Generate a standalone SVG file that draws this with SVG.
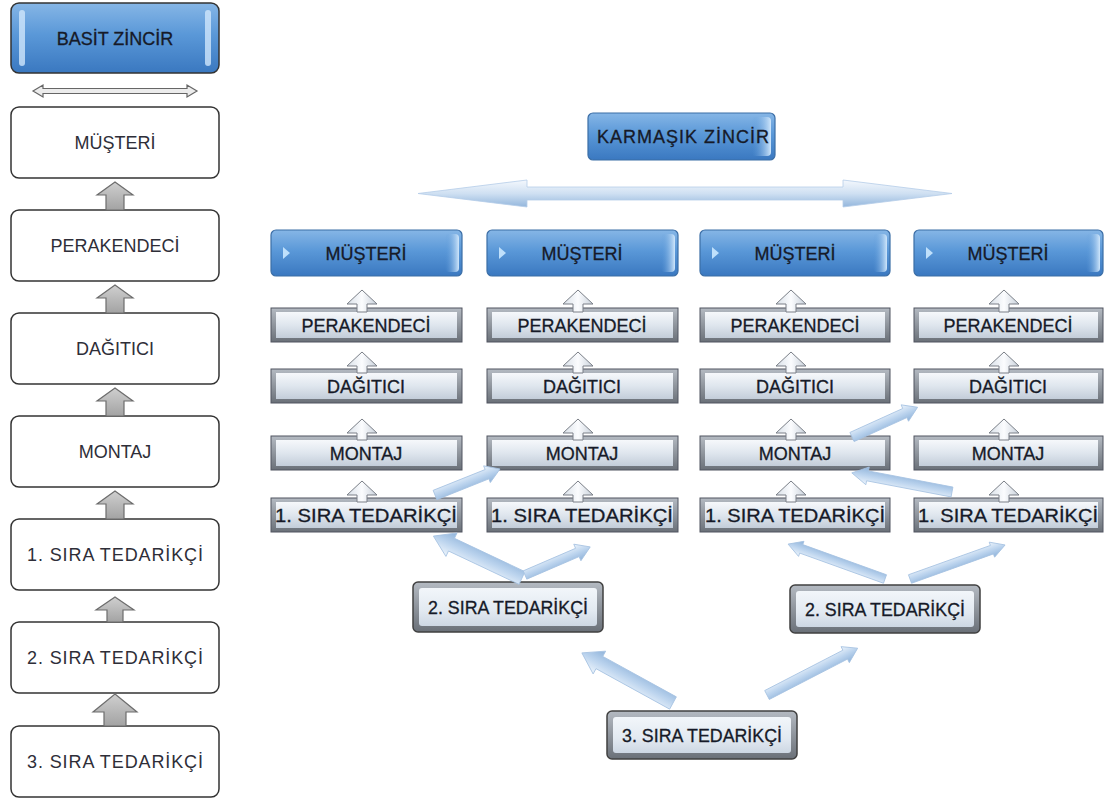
<svg xmlns="http://www.w3.org/2000/svg" width="1109" height="802" viewBox="0 0 1109 802">
<defs>
<linearGradient id="blueG" x1="0" y1="0" x2="0" y2="1">
<stop offset="0" stop-color="#86b6e6"/><stop offset="0.45" stop-color="#5a98d8"/><stop offset="1" stop-color="#3a78c0"/>
</linearGradient>
<linearGradient id="blueHi" x1="0" y1="0" x2="1" y2="0">
<stop offset="0" stop-color="#5a98d8" stop-opacity="0"/><stop offset="1" stop-color="#cfe6fb"/>
</linearGradient>
<linearGradient id="frameG" x1="0" y1="0" x2="0" y2="1">
<stop offset="0" stop-color="#b4bac2"/><stop offset="1" stop-color="#6a7078"/>
</linearGradient>
<linearGradient id="faceG" x1="0" y1="0" x2="0" y2="1">
<stop offset="0" stop-color="#f6f8fb"/><stop offset="0.5" stop-color="#dfe6ee"/><stop offset="1" stop-color="#c3cdd9"/>
</linearGradient>
<linearGradient id="face2G" x1="0" y1="0" x2="0" y2="1">
<stop offset="0" stop-color="#f2f6fa"/><stop offset="0.6" stop-color="#e2e9f1"/><stop offset="1" stop-color="#cdd7e3"/>
</linearGradient>
<linearGradient id="pipeG" x1="0" y1="0" x2="0" y2="1">
<stop offset="0" stop-color="#eef5fc"/><stop offset="0.5" stop-color="#bcd4ee"/><stop offset="1" stop-color="#8fb3da"/>
</linearGradient>
<linearGradient id="bigG" x1="0" y1="0" x2="0" y2="1">
<stop offset="0" stop-color="#f4f8fd"/><stop offset="0.5" stop-color="#cfe0f2"/><stop offset="1" stop-color="#93b6dc"/>
</linearGradient>
<linearGradient id="grayArrG" x1="0" y1="0" x2="0" y2="1">
<stop offset="0" stop-color="#cfcfcf"/><stop offset="1" stop-color="#a3a3a3"/>
</linearGradient>
<linearGradient id="upG" x1="0" y1="0" x2="1" y2="0">
<stop offset="0" stop-color="#d9e0e8"/><stop offset="0.5" stop-color="#fbfcfe"/><stop offset="1" stop-color="#c9d1db"/>
</linearGradient>
</defs>
<style>
.t{font-family:"Liberation Sans",Arial,sans-serif;font-size:18px;text-anchor:middle;fill:#161a28;stroke:#161a28;stroke-width:0.3}
.tl{font-family:"Liberation Sans",Arial,sans-serif;font-size:18px;text-anchor:middle;fill:#2e2e38}
.wbox{fill:#ffffff;stroke:#333333;stroke-width:1.5}
.blue{fill:url(#blueG);stroke:#3b6ea6;stroke-width:1.2}
.frame{fill:url(#frameG);stroke:#505560;stroke-width:1}
.face{fill:url(#faceG)}
.face2{fill:url(#face2G)}
.pipe{fill:url(#pipeG);stroke:#a6c2e2;stroke-width:0.8}
.garr{fill:url(#grayArrG);stroke:#6d6d6d;stroke-width:1.2}
.uarr{fill:url(#upG);stroke:#7a7f87;stroke-width:1}
.tri{fill:#bfe0fb}
</style>
<rect width="1109" height="802" fill="#ffffff"/>

<!-- LEFT: simple chain -->
<g id="basit-zincir">
<rect x="11" y="3" width="208" height="70" rx="8" fill="url(#blueG)" stroke="#333" stroke-width="1.5"/>
<rect x="19" y="10" width="6" height="56" rx="3" fill="#cfe6fb" opacity="0.8"/>
<rect x="205" y="10" width="6" height="56" rx="3" fill="#cfe6fb" opacity="0.8"/>
<text class="t" x="115" y="45">BASİT ZİNCİR</text>
</g>
<g id="basit-double-arrow">
<path d="M33,91 L43,85 L43,88.5 L187,88.5 L187,85 L197,91 L187,97 L187,93.5 L43,93.5 L43,97 Z" fill="#ececec" stroke="#666" stroke-width="1.2"/>
</g>
<g id="l-musteri"><rect class="wbox" x="11" y="107" width="208" height="71" rx="8"/><text class="tl" x="115" y="149">MÜŞTERİ</text></g>
<g id="l-perakendeci"><rect class="wbox" x="11" y="210" width="208" height="71" rx="8"/><text class="tl" x="115" y="252">PERAKENDECİ</text></g>
<g id="l-dagitici"><rect class="wbox" x="11" y="313" width="208" height="71" rx="8"/><text class="tl" x="115" y="355">DAĞITICI</text></g>
<g id="l-montaj"><rect class="wbox" x="11" y="416" width="208" height="71" rx="8"/><text class="tl" x="115" y="458">MONTAJ</text></g>
<g id="l-sira1"><rect class="wbox" x="11" y="519" width="208" height="71" rx="8"/><text class="tl" x="115" y="561" textLength="176" lengthAdjust="spacing">1. SIRA TEDARİKÇİ</text></g>
<g id="l-sira2"><rect class="wbox" x="11" y="622" width="208" height="71" rx="8"/><text class="tl" x="115" y="664" textLength="176" lengthAdjust="spacing">2. SIRA TEDARİKÇİ</text></g>
<g id="l-sira3"><rect class="wbox" x="11" y="726" width="208" height="71" rx="8"/><text class="tl" x="115" y="768" textLength="176" lengthAdjust="spacing">3. SIRA TEDARİKÇİ</text></g>

<!-- RIGHT: complex chain header -->
<g id="karmasik-zincir">
<rect x="588" y="113" width="187" height="47" rx="5" class="blue"/>
<rect x="752" y="117" width="19" height="39" rx="4" fill="url(#blueHi)"/>
<text class="t" x="683" y="143" textLength="172" lengthAdjust="spacing">KARMAŞIK ZİNCİR</text>
</g>
<g id="karmasik-double-arrow">
<path d="M418,193.5 L527,180 L527,187 L843,187 L843,180 L952,193.5 L843,207 L843,200 L527,200 L527,207 Z" fill="url(#bigG)" stroke="#b5cde8" stroke-width="0.8"/>
</g>

<!-- grid column 1 -->
<g id="c1-musteri"><rect class="blue" x="271" y="230" width="191" height="46" rx="5"/><path class="tri" d="M283,247 L290,253 L283,259 Z"/><rect x="445" y="234" width="14" height="38" rx="4" fill="url(#blueHi)"/><text class="t" x="366" y="260">MÜŞTERİ</text></g>
<g id="c1-perakendeci"><rect class="frame" x="271" y="308" width="191" height="34"/><rect class="face" x="276" y="312" width="181" height="26"/><text class="t" x="366" y="332">PERAKENDECİ</text></g>
<g id="c1-dagitici"><rect class="frame" x="271" y="369" width="191" height="34"/><rect class="face" x="276" y="373" width="181" height="26"/><text class="t" x="366" y="393">DAĞITICI</text></g>
<g id="c1-montaj"><rect class="frame" x="271" y="436" width="191" height="34"/><rect class="face" x="276" y="440" width="181" height="26"/><text class="t" x="366" y="460">MONTAJ</text></g>
<g id="c1-sira1"><rect class="frame" x="271" y="498" width="191" height="34"/><rect class="face" x="276" y="502" width="181" height="26"/><text class="t" x="366" y="522" textLength="182" lengthAdjust="spacingAndGlyphs">1. SIRA TEDARİKÇİ</text></g>

<!-- grid column 2 -->
<g id="c2-musteri"><rect class="blue" x="487" y="230" width="191" height="46" rx="5"/><path class="tri" d="M499,247 L506,253 L499,259 Z"/><rect x="661" y="234" width="14" height="38" rx="4" fill="url(#blueHi)"/><text class="t" x="582" y="260">MÜŞTERİ</text></g>
<g id="c2-perakendeci"><rect class="frame" x="487" y="308" width="191" height="34"/><rect class="face" x="492" y="312" width="181" height="26"/><text class="t" x="582" y="332">PERAKENDECİ</text></g>
<g id="c2-dagitici"><rect class="frame" x="487" y="369" width="191" height="34"/><rect class="face" x="492" y="373" width="181" height="26"/><text class="t" x="582" y="393">DAĞITICI</text></g>
<g id="c2-montaj"><rect class="frame" x="487" y="436" width="191" height="34"/><rect class="face" x="492" y="440" width="181" height="26"/><text class="t" x="582" y="460">MONTAJ</text></g>
<g id="c2-sira1"><rect class="frame" x="487" y="498" width="191" height="34"/><rect class="face" x="492" y="502" width="181" height="26"/><text class="t" x="582" y="522" textLength="182" lengthAdjust="spacingAndGlyphs">1. SIRA TEDARİKÇİ</text></g>

<!-- grid column 3 -->
<g id="c3-musteri"><rect class="blue" x="700" y="230" width="190" height="46" rx="5"/><path class="tri" d="M712,247 L719,253 L712,259 Z"/><rect x="873" y="234" width="14" height="38" rx="4" fill="url(#blueHi)"/><text class="t" x="795" y="260">MÜŞTERİ</text></g>
<g id="c3-perakendeci"><rect class="frame" x="700" y="308" width="190" height="34"/><rect class="face" x="705" y="312" width="180" height="26"/><text class="t" x="795" y="332">PERAKENDECİ</text></g>
<g id="c3-dagitici"><rect class="frame" x="700" y="369" width="190" height="34"/><rect class="face" x="705" y="373" width="180" height="26"/><text class="t" x="795" y="393">DAĞITICI</text></g>
<g id="c3-montaj"><rect class="frame" x="700" y="436" width="190" height="34"/><rect class="face" x="705" y="440" width="180" height="26"/><text class="t" x="795" y="460">MONTAJ</text></g>
<g id="c3-sira1"><rect class="frame" x="700" y="498" width="190" height="34"/><rect class="face" x="705" y="502" width="180" height="26"/><text class="t" x="795" y="522" textLength="180" lengthAdjust="spacingAndGlyphs">1. SIRA TEDARİKÇİ</text></g>

<!-- grid column 4 -->
<g id="c4-musteri"><rect class="blue" x="914" y="230" width="189" height="46" rx="5"/><path class="tri" d="M926,247 L933,253 L926,259 Z"/><rect x="1086" y="234" width="14" height="38" rx="4" fill="url(#blueHi)"/><text class="t" x="1008" y="260">MÜŞTERİ</text></g>
<g id="c4-perakendeci"><rect class="frame" x="914" y="308" width="189" height="34"/><rect class="face" x="919" y="312" width="179" height="26"/><text class="t" x="1008" y="332">PERAKENDECİ</text></g>
<g id="c4-dagitici"><rect class="frame" x="914" y="369" width="189" height="34"/><rect class="face" x="919" y="373" width="179" height="26"/><text class="t" x="1008" y="393">DAĞITICI</text></g>
<g id="c4-montaj"><rect class="frame" x="914" y="436" width="189" height="34"/><rect class="face" x="919" y="440" width="179" height="26"/><text class="t" x="1008" y="460">MONTAJ</text></g>
<g id="c4-sira1"><rect class="frame" x="914" y="498" width="189" height="34"/><rect class="face" x="919" y="502" width="179" height="26"/><text class="t" x="1008" y="522" textLength="180" lengthAdjust="spacingAndGlyphs">1. SIRA TEDARİKÇİ</text></g>

<!-- second and third tier suppliers -->
<g id="sira2-left"><rect x="413" y="582" width="190" height="50" rx="5" fill="url(#frameG)" stroke="#404040" stroke-width="1.5"/><rect x="419" y="588" width="178" height="38" rx="3" class="face2"/><text class="t" x="508" y="614" font-size="19" textLength="160" lengthAdjust="spacingAndGlyphs">2. SIRA TEDARİKÇİ</text></g>
<g id="sira2-right"><rect x="790" y="585" width="190" height="48" rx="5" fill="url(#frameG)" stroke="#404040" stroke-width="1.5"/><rect x="796" y="591" width="178" height="36" rx="3" class="face2"/><text class="t" x="885" y="616" font-size="19" textLength="160" lengthAdjust="spacingAndGlyphs">2. SIRA TEDARİKÇİ</text></g>
<g id="sira3"><rect x="607" y="711" width="190" height="48" rx="5" fill="url(#frameG)" stroke="#404040" stroke-width="1.5"/><rect x="613" y="717" width="178" height="36" rx="3" class="face2"/><text class="t" x="702" y="742" font-size="19" textLength="160" lengthAdjust="spacingAndGlyphs">3. SIRA TEDARİKÇİ</text></g>

<!-- connectors -->
<g id="connectors">
<!-- left column block arrows -->
<path class="garr" d="M115,182 L133,195 L124,195 L124,210 L106,210 L106,195 L97,195 Z"/>
<path class="garr" d="M115,285 L133,298 L124,298 L124,313 L106,313 L106,298 L97,298 Z"/>
<path class="garr" d="M115,388 L133,401 L124,401 L124,416 L106,416 L106,401 L97,401 Z"/>
<path class="garr" d="M115,491 L133,504 L124,504 L124,519 L106,519 L106,504 L97,504 Z"/>
<path class="garr" d="M115,597 L134,610 L123,610 L123,622 L107,622 L107,610 L96,610 Z"/>
<path class="garr" d="M115,694 L137,712 L126,712 L126,726 L104,726 L104,712 L93,712 Z"/>

<!-- grid up arrows -->
<path class="uarr" d="M362,290 L377,304 L367,304 L367,312 L357,312 L357,304 L347,304 Z"/>
<path class="uarr" d="M362,352 L377,366 L367,366 L367,373 L357,373 L357,366 L347,366 Z"/>
<path class="uarr" d="M362,419 L377,433 L367,433 L367,440 L357,440 L357,433 L347,433 Z"/>
<path class="uarr" d="M362,481 L377,495 L367,495 L367,502 L357,502 L357,495 L347,495 Z"/>

<path class="uarr" d="M578,290 L593,304 L583,304 L583,312 L573,312 L573,304 L563,304 Z"/>
<path class="uarr" d="M578,352 L593,366 L583,366 L583,373 L573,373 L573,366 L563,366 Z"/>
<path class="uarr" d="M578,419 L593,433 L583,433 L583,440 L573,440 L573,433 L563,433 Z"/>
<path class="uarr" d="M578,481 L593,495 L583,495 L583,502 L573,502 L573,495 L563,495 Z"/>

<path class="uarr" d="M791,290 L806,304 L796,304 L796,312 L786,312 L786,304 L776,304 Z"/>
<path class="uarr" d="M791,352 L806,366 L796,366 L796,373 L786,373 L786,366 L776,366 Z"/>
<path class="uarr" d="M791,419 L806,433 L796,433 L796,440 L786,440 L786,433 L776,433 Z"/>
<path class="uarr" d="M791,481 L806,495 L796,495 L796,502 L786,502 L786,495 L776,495 Z"/>

<path class="uarr" d="M1004,290 L1019,304 L1009,304 L1009,312 L999,312 L999,304 L989,304 Z"/>
<path class="uarr" d="M1004,352 L1019,366 L1009,366 L1009,373 L999,373 L999,366 L989,366 Z"/>
<path class="uarr" d="M1004,419 L1019,433 L1009,433 L1009,440 L999,440 L999,433 L989,433 Z"/>
<path class="uarr" d="M1004,481 L1019,495 L1009,495 L1009,502 L999,502 L999,495 L989,495 Z"/>

<!-- diagonal pipe arrows -->
<path class="pipe" transform="translate(522,578) rotate(-154.7)" d="M0,-7 H78 V-13 L98,0 L78,13 V7 H0 Z"/>
<path class="pipe" transform="translate(525,575) rotate(-23.3)" d="M0,-4.5 H57 V-9 L71,0 L57,9 V4.5 H0 Z"/>
<path class="pipe" transform="translate(673,703) rotate(-151.2)" d="M0,-7 H84 V-13 L104,0 L84,13 V7 H0 Z"/>
<path class="pipe" transform="translate(767,695) rotate(-27.3)" d="M0,-5 H88 V-9 L102,0 L88,9 V5 H0 Z"/>
<path class="pipe" transform="translate(885,579) rotate(-160.2)" d="M0,-4.5 H89 V-8 L103,0 L89,8 V4.5 H0 Z"/>
<path class="pipe" transform="translate(910,579) rotate(-19.7)" d="M0,-4.5 H87 V-8 L101,0 L87,8 V4.5 H0 Z"/>
<path class="pipe" transform="translate(435,495) rotate(-21.8)" d="M0,-5 H56 V-9 L70,0 L56,9 V5 H0 Z"/>
<path class="pipe" transform="translate(852,437) rotate(-24.4)" d="M0,-5 H58 V-9 L72,0 L58,9 V5 H0 Z"/>
<path class="pipe" transform="translate(952,492) rotate(-169.2)" d="M0,-5 H86 V-9 L102,0 L86,9 V5 H0 Z"/>
</g>
</svg>
